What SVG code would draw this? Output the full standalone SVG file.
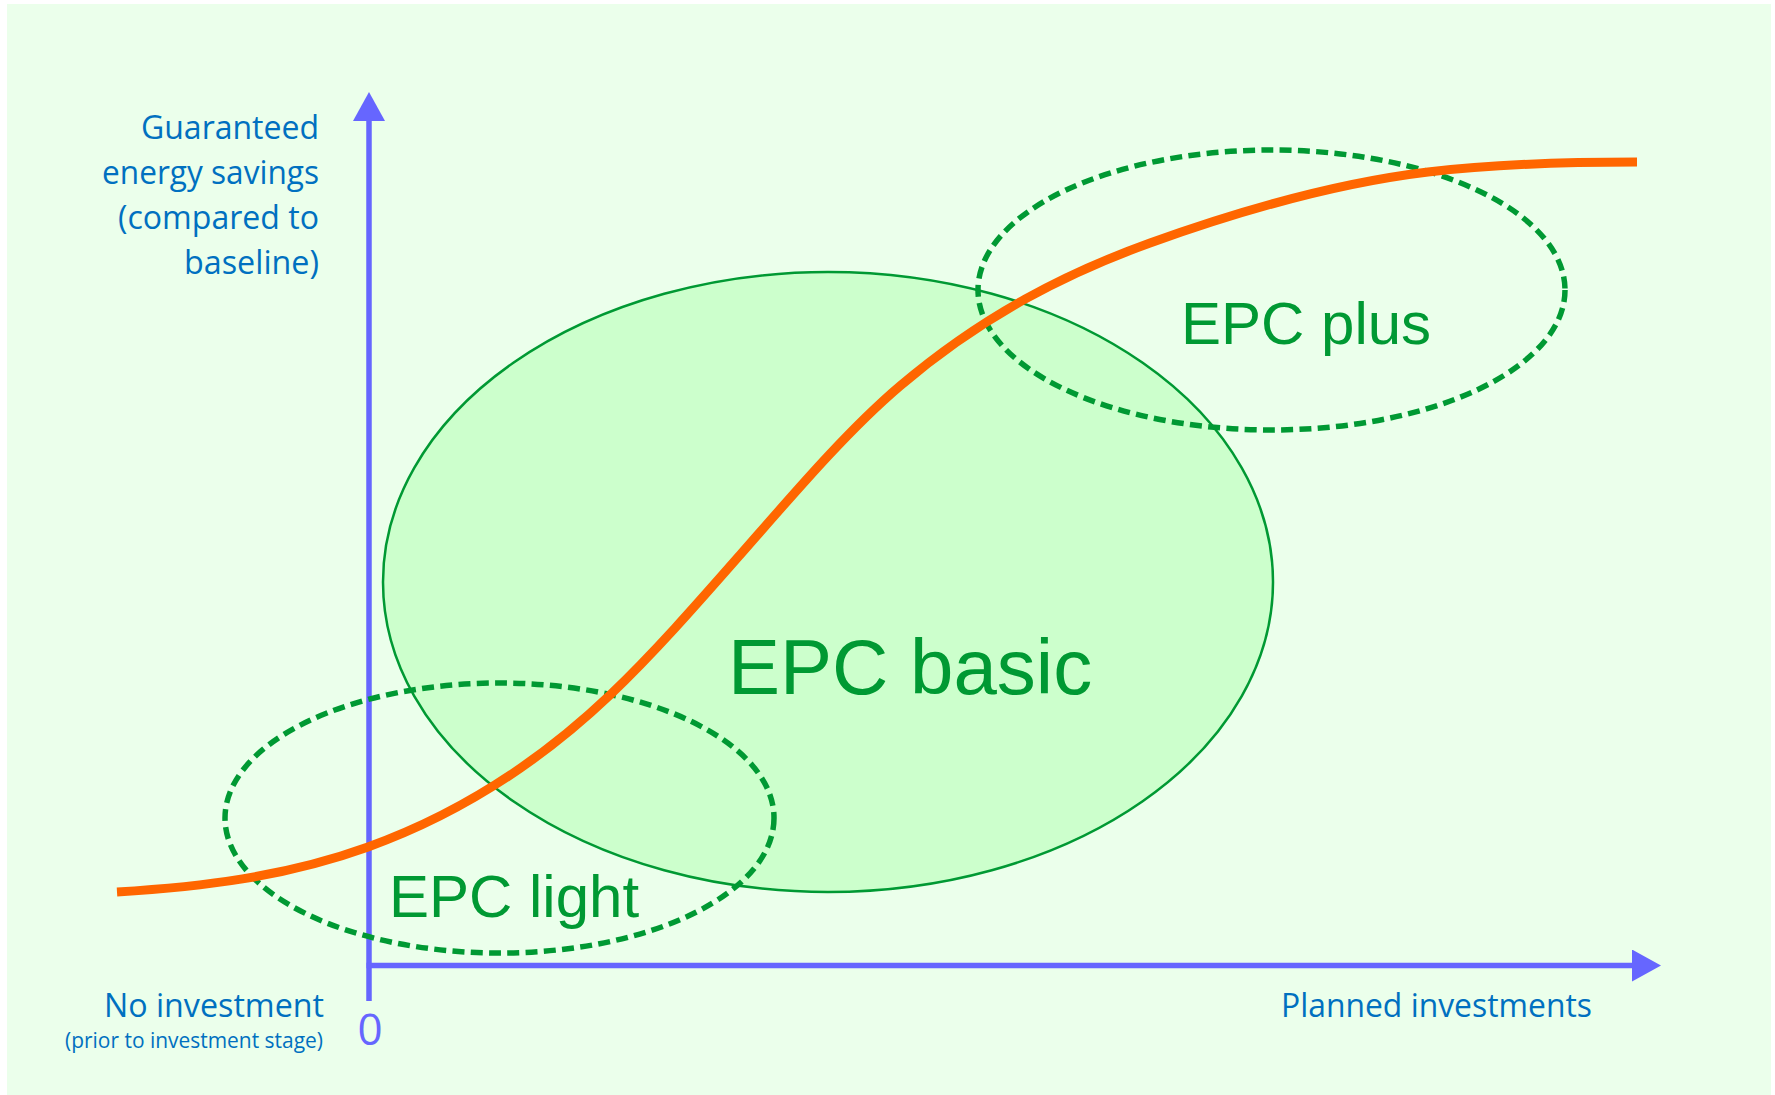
<svg xmlns="http://www.w3.org/2000/svg" width="1775" height="1095" viewBox="0 0 1775 1095">
  <style>
    .axis { stroke: #6666FF; stroke-width: 5.5; fill: none; }
    .lbl { font-family: "Open Sans", "Liberation Sans", sans-serif; fill: #0070C0; }
    .epc { font-family: "Liberation Sans", Arial, sans-serif; fill: #009933; }
    .dashed { fill: none; stroke: #009933; stroke-width: 5.5; stroke-dasharray: 12 6.3; }
    .curve { fill: none; stroke: #FF6600; stroke-width: 9; stroke-linecap: butt; }
  </style>
  <defs>
    <marker id="arrow" markerUnits="userSpaceOnUse" markerWidth="30" markerHeight="32" viewBox="0 0 30 32" refX="0" refY="16" orient="auto">
      <path d="M0,0 L29,16 L0,32 Z" fill="#6666FF"/>
    </marker>
  </defs>

  <rect id="background" x="7" y="4" width="1764" height="1091" fill="#EBFFEB"/>

  <g id="connectors">
    <line class="axis" x1="369" y1="1001" x2="369" y2="121" marker-end="url(#arrow)"/>
    <line class="axis" x1="366.5" y1="965.5" x2="1632" y2="965.5" marker-end="url(#arrow)"/>
  </g>

  <g id="epc-basic">
    <ellipse cx="828" cy="582" rx="445" ry="310" fill="#CCFFCC" stroke="#009933" stroke-width="2.5"/>
    <text class="epc" x="728" y="694" font-size="78">EPC basic</text>
  </g>

  <g id="epc-light">
    <ellipse class="dashed" cx="499.5" cy="818" rx="274.5" ry="135"/>
    <text class="epc" x="389" y="917" font-size="60">EPC light</text>
  </g>

  <g id="epc-plus">
    <ellipse class="dashed" cx="1271.5" cy="290" rx="293.5" ry="140"/>
    <text class="epc" x="1181" y="344" font-size="60">EPC plus</text>
  </g>

  <g id="savings-curve">
    <path class="curve" d="M117,892 C200.67,886.98 284.33,877.12 368,847 C448.67,817.96 529.33,771.63 610,695 C653.33,653.83 696.67,604.4 740,555 C793.33,494.2 846.67,431.33 900,386 C983.33,315.17 1066.67,273 1150,243 C1242.67,209.64 1335.33,183.12 1428,172 C1497.67,163.64 1567.33,162 1637,162"/>
  </g>

  <g id="y-axis-label">
    <text class="lbl" font-size="32" x="141" y="139" textLength="178" lengthAdjust="spacingAndGlyphs">Guaranteed</text>
    <text class="lbl" font-size="32" x="102" y="184" textLength="217" lengthAdjust="spacingAndGlyphs">energy savings</text>
    <text class="lbl" font-size="32" x="118" y="229" textLength="201" lengthAdjust="spacingAndGlyphs">(compared to</text>
    <text class="lbl" font-size="32" x="184" y="274" textLength="135" lengthAdjust="spacingAndGlyphs">baseline)</text>
  </g>

  <g id="origin-label">
    <text class="lbl" font-size="32" x="104" y="1017" textLength="220" lengthAdjust="spacingAndGlyphs">No investment</text>
    <text class="lbl" font-size="21" x="65" y="1048" textLength="258" lengthAdjust="spacingAndGlyphs">(prior to investment stage)</text>
    <text font-family="Open Sans, Liberation Sans, sans-serif" fill="#6666FF" font-size="44" x="370" y="1045" text-anchor="middle">0</text>
  </g>

  <g id="x-axis-label">
    <text class="lbl" font-size="32" x="1281" y="1017" textLength="311" lengthAdjust="spacingAndGlyphs">Planned investments</text>
  </g>
</svg>
